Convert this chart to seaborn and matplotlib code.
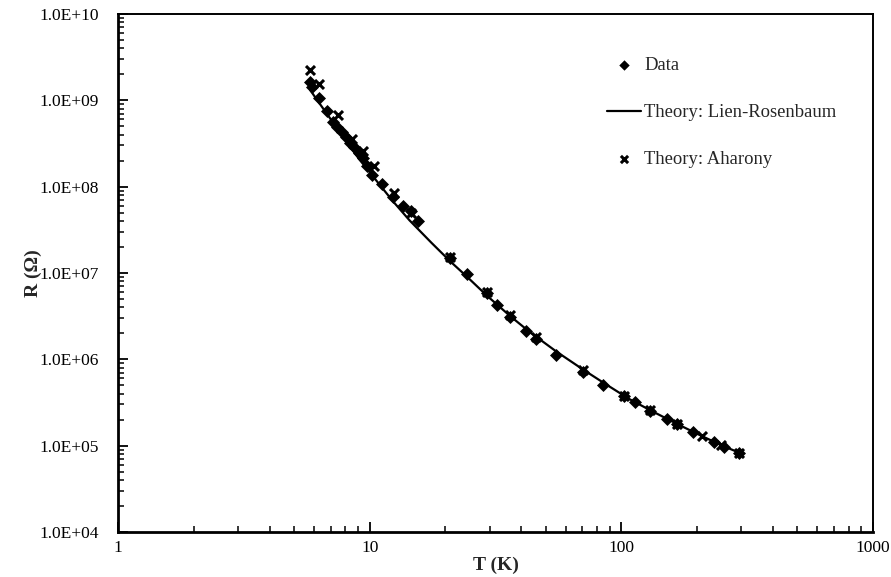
import numpy as np
import pandas as pd
import matplotlib
matplotlib.use("Agg")
import matplotlib.pyplot as plt
import seaborn as sns
from matplotlib.ticker import LogLocator, FixedLocator, FixedFormatter, NullFormatter

sns.set_theme(style="white")
plt.rcParams['font.family'] = ['Liberation Serif', 'DejaVu Serif']

# ---- data ----
data_T = [5.80, 5.91, 6.30, 6.78, 7.16, 7.43, 7.78, 8.07, 8.36, 8.67, 9.08, 9.42, 9.78,
          10.23, 11.2, 12.4, 13.6, 14.6, 15.6, 20.9, 24.4, 29.3, 32.1, 36.2, 41.9,
          45.9, 55.2, 70.6, 84.8, 102.8, 113.7, 130.3, 152.4, 167, 193, 234, 257, 294]
data_R = [1.63e9, 1.43e9, 1.06e9, 7.5e8, 5.6e8, 4.9e8, 4.3e8, 3.76e8, 3.2e8, 2.88e8,
          2.45e8, 2.14e8, 1.75e8, 1.36e8, 1.07e8, 7.6e7, 5.96e7, 5.2e7, 4.0e7, 1.49e7,
          9.7e6, 5.85e6, 4.25e6, 3.08e6, 2.12e6, 1.71e6, 1.12e6, 7.1e5, 5.0e5, 3.75e5,
          3.19e5, 2.51e5, 2.03e5, 1.77e5, 1.43e5, 1.10e5, 9.6e4, 8.2e4]

aharony_T = [5.80, 6.30, 7.50, 8.52, 9.42, 10.4, 12.5, 14.6, 20.9, 29.3, 36.2, 45.9,
             70.6, 102.8, 130.3, 167, 210, 250, 294]
aharony_R = [2.24e9, 1.55e9, 6.77e8, 3.57e8, 2.59e8, 1.73e8, 8.4e7, 4.9e7, 1.53e7,
             6.0e6, 3.25e6, 1.81e6, 7.5e5, 3.75e5, 2.58e5, 1.77e5, 1.29e5, 1.01e5, 8.2e4]

lr_T = [5.80, 6.30, 7.56, 9.08, 12.3, 14.4, 17.6, 20.9, 24.4, 29.3, 36.2, 43.1, 55.2,
        70.6, 84.8, 107.6, 130.3, 167, 210, 250, 303]
lr_logR = [9.12, 8.97, 8.645, 8.32, 7.84, 7.61, 7.35, 7.135, 6.955, 6.735, 6.50,
           6.32, 6.09, 5.88, 5.73, 5.54, 5.41, 5.25, 5.108, 5.005, 4.902]
lr_R = [10 ** v for v in lr_logR]

y_ticks = [1e4, 1e5, 1e6, 1e7, 1e8, 1e9, 1e10]
y_labels = ["1.0E+04", "1.0E+05", "1.0E+06", "1.0E+07", "1.0E+08", "1.0E+09", "1.0E+10"]
x_ticks = [1, 10, 100, 1000]
x_labels = ["1", "10", "100", "1000"]

df_data = pd.DataFrame({"T": data_T, "R": data_R})
df_ah = pd.DataFrame({"T": aharony_T, "R": aharony_R})
df_lr = pd.DataFrame({"T": lr_T, "R": lr_R})

fig = plt.figure(figsize=(8.91, 5.77), dpi=100)
ax = fig.add_axes([118 / 891, 1 - 532 / 577, (873 - 118) / 891, (532 - 14) / 577])

sns.lineplot(data=df_lr, x="T", y="R", ax=ax, color="black", linewidth=1.6,
             sort=False, estimator=None, label="Theory: Lien-Rosenbaum", zorder=2)
sns.scatterplot(data=df_data, x="T", y="R", ax=ax, marker="D", s=44, color="black",
                edgecolor="black", linewidth=0, label="Data", zorder=3)
sns.scatterplot(data=df_ah, x="T", y="R", ax=ax, marker="x", s=42, color="black",
                linewidth=2.2, label="Theory: Aharony", zorder=4)

ax.set_xscale("log")
ax.set_yscale("log")
ax.set_xlim(1, 1000)
ax.set_ylim(1e4, 1e10)

ax.xaxis.set_major_locator(FixedLocator(x_ticks))
ax.xaxis.set_major_formatter(FixedFormatter(x_labels))
ax.yaxis.set_major_locator(FixedLocator(y_ticks))
ax.yaxis.set_major_formatter(FixedFormatter(y_labels))
ax.xaxis.set_minor_locator(LogLocator(base=10, subs=np.arange(2, 10), numticks=20))
ax.yaxis.set_minor_locator(LogLocator(base=10, subs=np.arange(2, 10), numticks=20))
ax.xaxis.set_minor_formatter(NullFormatter())
ax.yaxis.set_minor_formatter(NullFormatter())

ax.tick_params(which="major", direction="in", length=7, width=1.3, labelsize=12.5,
               bottom=True, left=True, top=False, right=False, colors="black")
ax.tick_params(which="minor", direction="in", length=4, width=1.1,
               bottom=True, left=True, top=False, right=False, colors="black")
ax.tick_params(axis="y", which="major", pad=14)
ax.tick_params(axis="x", which="major", pad=6)

for side in ["left", "bottom"]:
    ax.spines[side].set_linewidth(2.0)
for side in ["top", "right"]:
    ax.spines[side].set_linewidth(1.4)
for s in ax.spines.values():
    s.set_color("black")

ax.set_xlabel("T (K)", fontsize=14, fontweight="bold", labelpad=0)
ax.set_ylabel("R (Ω)", fontsize=14, fontweight="bold", labelpad=-2)

handles, labels = ax.get_legend_handles_labels()
order = [labels.index("Data"), labels.index("Theory: Lien-Rosenbaum"), labels.index("Theory: Aharony")]
leg = ax.legend([handles[i] for i in order], [labels[i] for i in order],
                loc="upper left", bbox_to_anchor=((607 - 118) / 755, (532 - 57) / 518),
                frameon=False, fontsize=13.4, labelspacing=1.62, handlelength=1.85,
                handletextpad=0.15, borderpad=0, borderaxespad=0, markerscale=0.8)

fig.savefig("out.png", dpi=100)
